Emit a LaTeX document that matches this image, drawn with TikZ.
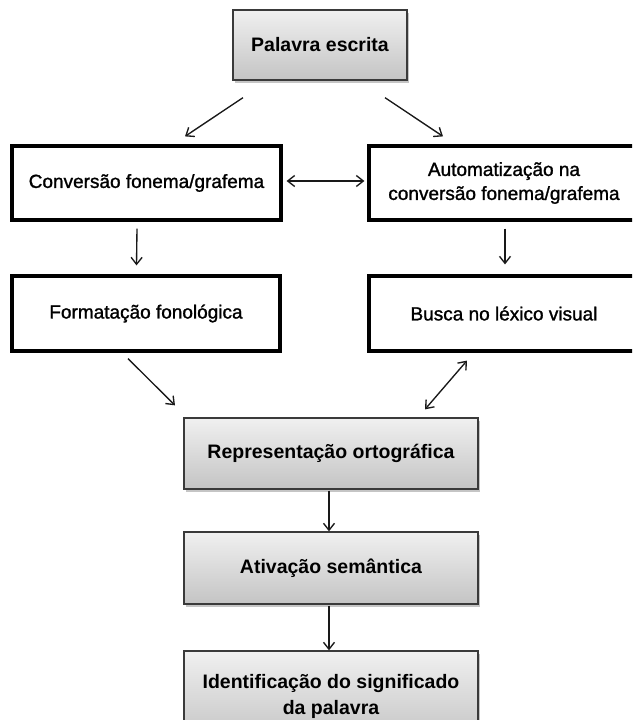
\documentclass[tikz,border=0pt]{standalone}
\usepackage{fontspec}
\setmainfont{Liberation Sans}
\newfontfamily\medfont[FakeBold=1.3]{Liberation Sans}
\usetikzlibrary{arrows.meta,calc,shadows}
\definecolor{boxtop}{HTML}{F0F0F0}
\definecolor{boxbot}{HTML}{C4C4C4}
\definecolor{boxedge}{HTML}{3A3A3A}
\tikzset{
  graybox/.style={draw=boxedge, line width=1.3pt, top color=boxtop, bottom color=boxbot,
    drop shadow={opacity=0.45, shadow xshift=2pt, shadow yshift=-2.5pt},
    align=center, inner sep=0pt, font=\fontsize{19.5}{26}\selectfont\bfseries},
  whitebox/.style={draw=black, line width=3.2pt, fill=white, align=center, inner sep=0pt,
    font=\fontsize{19}{24}\selectfont\medfont},
  arr/.style={draw=black!90, line width=1.35pt, -{Straight Barb[length=7pt,width=11pt,line width=1.35pt]}},
  darr/.style={draw=black!90, line width=1.35pt, {Straight Barb[length=7pt,width=11pt,line width=1.35pt]}-{Straight Barb[length=7pt,width=11pt,line width=1.35pt]}}
}
\begin{document}
\begin{tikzpicture}[x=1pt,y=-1pt]
\useasboundingbox (0,0) rectangle (632,720);
\clip (0,0) rectangle (632,720);
\fill[white] (0,0) rectangle (632,720);
% nodes
\node[graybox, minimum width=174pt, minimum height=70pt] (pal) at (320,45) {Palavra escrita};
\node[whitebox, minimum width=269pt, minimum height=74pt] (conv) at (146.5,183) {Conversão fonema/grafema};
\node[whitebox, minimum width=270pt, minimum height=74pt] (auto) at (504,183) {Automatização na\\conversão fonema/grafema};
\node[whitebox, minimum width=268pt, minimum height=75pt] (form) at (146,313.5) {Formatação fonológica};
\node[whitebox, minimum width=270pt, minimum height=75pt] (busca) at (504,313.5) {Busca no léxico visual};
\node[graybox, minimum width=294pt, minimum height=71pt] (rep) at (331,453.5) {Representação ortográfica};
\node[graybox, minimum width=294pt, minimum height=72pt] (ativ) at (331,568) {Ativação semântica};
\node[graybox, minimum width=294pt, minimum height=90pt] (ident) at (331,696) {Identificação do significado\\da palavra};
% connectors
\draw[arr] ($(pal.south)+(-77,17)$) -- ($(conv.north)+(38.5,-8)$);
\draw[arr] ($(pal.south)+(65,17)$) -- ($(auto.north)+(-61,-8)$);
\draw[darr] ($(conv.east)+(4,-2)$) -- ($(auto.west)+(-3,-2)$);
\draw[arr] ($(conv.south)+(-9.5,7)$) -- ($(form.north)+(-9.5,-9)$);
\draw[arr] ($(auto.south)+(1,7)$) -- ($(busca.north)+(1,-10)$);
\draw[arr] ($(form.south)+(-18,6)$) -- ($(rep.north)+(-156,-12)$);
\draw[darr] ($(rep.north)+(94,-8)$) -- ($(busca.south)+(-37,8)$);
\draw[arr] ($(rep.south)+(-2,1)$) -- ($(ativ.north)+(-2,0)$);
\draw[arr] ($(ativ.south)+(-2,1)$) -- ($(ident.north)+(-2,0)$);
\end{tikzpicture}
\end{document}
